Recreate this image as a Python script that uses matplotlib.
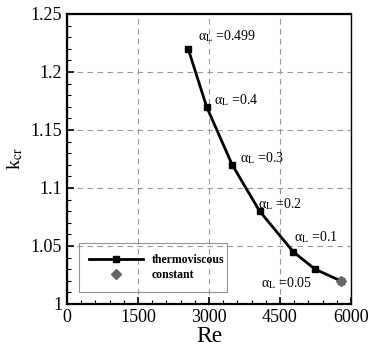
import matplotlib
matplotlib.use("Agg")
import matplotlib.pyplot as plt
from matplotlib.ticker import MultipleLocator

plt.rcParams['font.family'] = ['Liberation Serif', 'DejaVu Serif']
plt.rcParams['mathtext.fontset'] = 'stix'

re_thermo = [2560, 2950, 3490, 4070, 4780, 5240, 5780]
k_thermo = [1.220, 1.170, 1.120, 1.080, 1.045, 1.030, 1.020]
re_const = [5780]
k_const = [1.020]
alpha_labels = ['0.499', '0.4', '0.3', '0.2', '0.1', '0.05']
label_re = [2768, 3106, 3655, 4035, 4796, 4099]
label_k = [1.231, 1.176, 1.126, 1.086, 1.058, 1.018]

fig = plt.figure(figsize=(3.68, 3.5), dpi=100)
ax = fig.add_axes([67/368, 1-304/350, 284/368, 290/350])

ax.plot(re_thermo, k_thermo, color='black', lw=2, marker='s', ms=5,
        label='thermoviscous', zorder=3)
ax.plot(re_const, k_const, ls='none', marker='D', ms=5.5, color='#666666',
        label='constant', zorder=4)

for lab, x, y in zip(alpha_labels, label_re, label_k):
    ax.text(x, y, 'α$_{\\rm L}$ =' + lab, fontsize=10, va='center', ha='left')

ax.set_xlim(0, 6000)
ax.set_ylim(1.0, 1.25)
ax.xaxis.set_minor_locator(MultipleLocator(300))
ax.yaxis.set_minor_locator(MultipleLocator(0.01))
ax.set_yticks([1.0, 1.05, 1.1, 1.15, 1.2, 1.25])
ax.set_yticklabels(['1', '1.05', '1.1', '1.15', '1.2', '1.25'])
ax.set_xticks([0, 1500, 3000, 4500, 6000])
ax.set_xticklabels(['0', '1500', '3000', '4500', '6000'])
ax.tick_params(which='both', direction='in', top=False, right=False, labelsize=13)
ax.tick_params(which='major', length=5, width=1.2)
ax.tick_params(which='minor', length=3, width=0.8)
ax.grid(True, which='major', ls=(0, (5, 4)), color='#999999', lw=0.8)

for s in ['left', 'bottom', 'top']:
    ax.spines[s].set_linewidth(1.6)
ax.spines['right'].set_linewidth(1.0)

ax.set_xlabel('Re', fontsize=17, labelpad=0)
ax.set_ylabel(r'k$_{\rm cr}$', fontsize=14, labelpad=4)

leg = ax.legend(loc='lower left', bbox_to_anchor=(0.021, 0.021, 0.563, 0.22),
                mode='expand', frameon=True, fancybox=False,
                edgecolor='#777777', handlelength=4.5, borderpad=0.9,
                prop={'weight': 'bold', 'size': 8.5}, labelspacing=0.3)
leg.get_frame().set_facecolor('none')
leg.get_frame().set_linewidth(0.8)

fig.savefig('out.png', dpi=100)
